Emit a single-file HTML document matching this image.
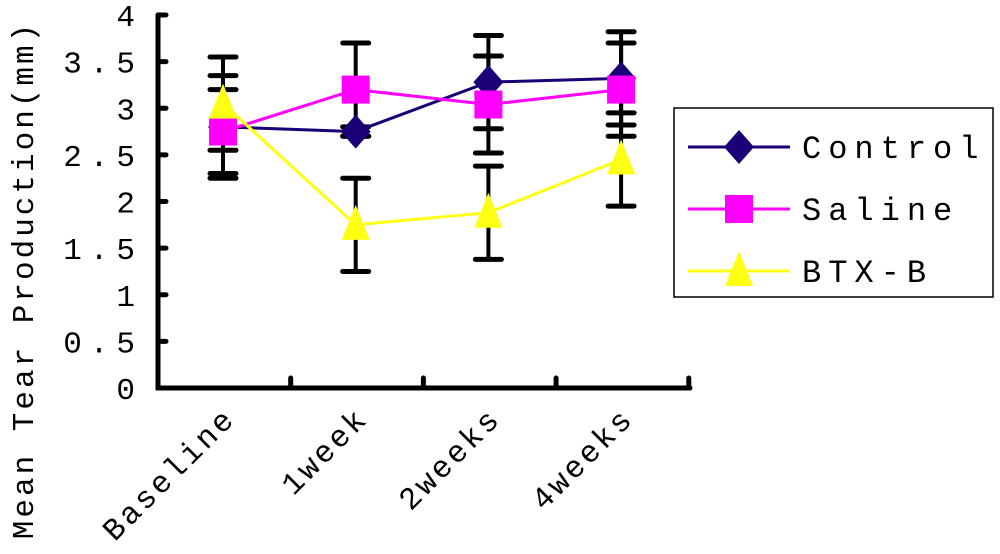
<!DOCTYPE html>
<html><head><meta charset="utf-8"><style>
body{margin:0;background:#fff;}
svg{display:block;font-family:"Liberation Mono","Noto Serif CJK SC",monospace;}
</style></head><body>
<svg id="chart" width="1000" height="554" viewBox="0 0 1000 554" xmlns="http://www.w3.org/2000/svg"></svg>
<script>
const categories = ["Baseline","1week","2weeks","4weeks"];
const yTicks = ["0","0.5","1","1.5","2","2.5","3","3.5","4"];
const controlVals = [2.8, 2.75, 3.28, 3.32];
const controlErr = [0.55, 0.05, 0.5, 0.5];
const salineVals = [2.75, 3.2, 3.04, 3.2];
const salineErr = [0.45, 0.5, 0.52, 0.5];
const btxVals = [3.05, 1.75, 1.88, 2.45];
const btxErr = [0.5, 0.5, 0.5, 0.5];
const seriesNames = ["Control","Saline","BTX-B"];

const NS="http://www.w3.org/2000/svg";
const svg=document.getElementById('chart');
function mk(tag,attrs,parent){const e=document.createElementNS(NS,tag);for(const k in attrs)e.setAttribute(k,attrs[k]);(parent||svg).appendChild(e);return e;}
const x0=158,x1=690,yTop=15,yBot=388;
function yS(v){return yBot-(v/4)*(yBot-yTop);}
function xS(i){return 223+i*132.7;}

const errG=mk('g',{});


[[controlVals,controlErr],[salineVals,salineErr],[btxVals,btxErr]].forEach(([vals,errs])=>{
  vals.forEach((v,i)=>{
    const x=xS(i),t=yS(v+errs[i]),b=yS(v-errs[i]);
    mk('line',{x1:x,y1:t,x2:x,y2:b,stroke:'#000','stroke-width':4},errG);
    [t,b].forEach(y=>mk('line',{x1:x-13,y1:y,x2:x+13,y2:y,stroke:'#000','stroke-width':5,'stroke-linecap':'round'},errG));
  });
});

const ax=mk('path',{d:`M${x0} ${yTop} V${yBot} H${x1}`,fill:'none',stroke:'#000','stroke-width':5,'stroke-linecap':'round'});


yTicks.forEach((t,i)=>{
  const y=yS(i*0.5);
  mk('line',{x1:x0,y1:y,x2:x0+8,y2:y,stroke:'#000','stroke-width':5,'stroke-linecap':'round'});
  const tx=mk('text',{x:143,y:y+11,'text-anchor':'end','font-size':31,'letter-spacing':'8'});
  tx.textContent=t;
  
  
});
categories.forEach((c,i)=>{
  const xt=x0+(i+1)*132.7;
  mk('line',{x1:xt,y1:yBot,x2:xt,y2:yBot-10,stroke:'#000','stroke-width':5,'stroke-linecap':'round'});
  const tx=mk('text',{x:0,y:0,'text-anchor':'end','font-size':31,'letter-spacing':'3',transform:`translate(${xS(i)+14},${420}) rotate(-45)`});
  tx.textContent=c;
  
  
});
const yt=mk('text',{x:0,y:0,'text-anchor':'middle','font-size':31,'letter-spacing':'3',transform:'translate(33,280) rotate(-90)'});
yt.textContent='Mean Tear Production(mm)';



function marker(type,x,y,color,parent){
  if(type==='d')return mk('polygon',{points:`${x},${y-17} ${x+15},${y} ${x},${y+17} ${x-15},${y}`,fill:color},parent);
  if(type==='s')return mk('rect',{x:x-14,y:y-14,width:28,height:28,fill:color},parent);
  return mk('polygon',{points:`${x},${y-20} ${x+14},${y+15} ${x-14},${y+15}`,fill:color},parent);
}
const series=[[controlVals,'#1b0077','d'],[salineVals,'#ff00ff','s'],[btxVals,'#ffff14','t']];
series.forEach(([vals,col,mt],si)=>{
  const g=mk('g',{});
  
  
  mk('polyline',{points:vals.map((v,i)=>xS(i)+','+yS(v)).join(' '),fill:'none',stroke:col,'stroke-width':3},g);
  vals.forEach((v,i)=>marker(mt,xS(i),yS(v),col,g));
});

const lg=mk('g',{});


mk('rect',{x:674,y:108,width:319,height:189,fill:'#fff',stroke:'#000','stroke-width':1.5},lg);
series.forEach(([vals,col,mt],si)=>{
  const y=147+si*62;
  const e=mk('g',{},lg);
  
  
  mk('line',{x1:688,y1:y,x2:790,y2:y,stroke:col,'stroke-width':3},e);
  marker(mt,739,y,col,e);
  const t=mk('text',{x:802,y:y+11,'font-size':32,'letter-spacing':'7'},e);
  t.textContent=seriesNames[si];
});
</script>
</body></html>
